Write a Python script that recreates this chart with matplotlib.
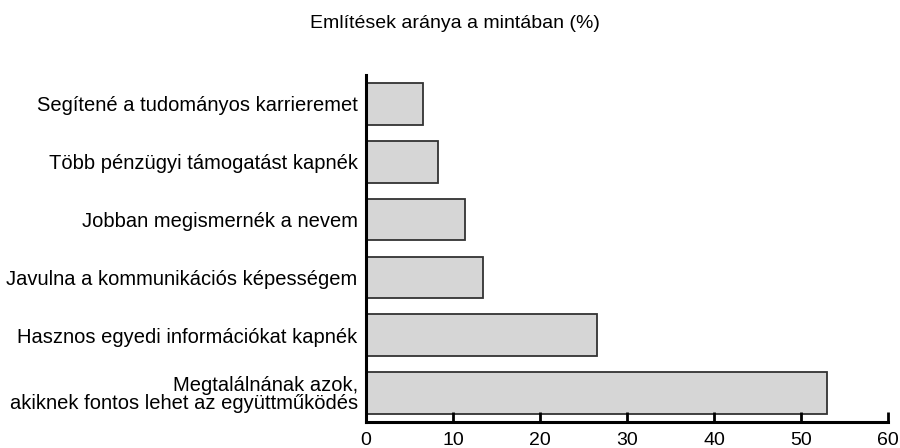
import matplotlib
matplotlib.use("Agg")
import matplotlib.pyplot as plt
import numpy as np

plt.rcParams['font.family'] = ['Liberation Sans', 'DejaVu Sans']

kategoriak = [
    "Segítené a tudományos karrieremet",
    "Több pénzügyi támogatást kapnék",
    "Jobban megismernék a nevem",
    "Javulna a kommunikációs képességem",
    "Hasznos egyedi információkat kapnék",
    "Megtalálnának azok,\nakiknek fontos lehet az együttműködés",
]
ertekek = [6.5, 8.25, 11.35, 13.5, 26.5, 53.0]
x_tickek = [0, 10, 20, 30, 40, 50, 60]

fig = plt.figure(figsize=(9, 4.48), dpi=100)
ax = fig.add_axes([0.4067, 0.058, 0.58, 0.7746])

y = np.arange(len(kategoriak))
ax.barh(y, ertekek, height=0.72, color="#d6d6d6", edgecolor="#333333", linewidth=1.3)

ax.set_ylim(len(kategoriak) - 0.5, -0.5)
ax.set_xlim(0, 60)
ax.set_xticks(x_tickek)
ax.set_yticks(y)
ax.set_yticklabels(kategoriak, fontsize=14.5, linespacing=0.95)
ax.tick_params(axis='y', length=0, pad=6)
ax.tick_params(axis='x', direction='in', length=7, width=2, labelsize=14, pad=7)

for s in ['top', 'right']:
    ax.spines[s].set_visible(False)
ax.spines['left'].set_linewidth(2.2)
ax.spines['bottom'].set_linewidth(2.2)

fig.text(0.505, 0.948, "Említések aránya a mintában (%)", ha='center', va='center', fontsize=14)

fig.savefig("out.png", dpi=100)
